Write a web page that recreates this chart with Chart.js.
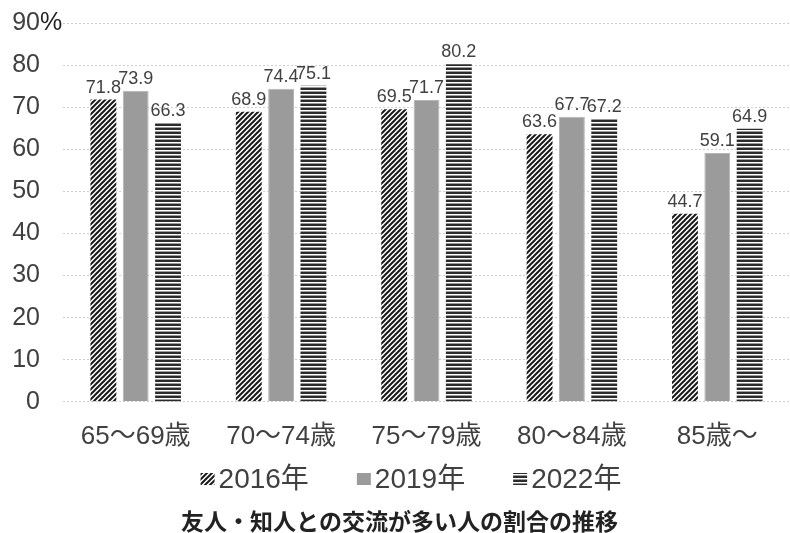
<!DOCTYPE html>
<html>
<head>
<meta charset="utf-8">
<script src="https://cdn.jsdelivr.net/npm/chart.js@4.4.1/dist/chart.umd.min.js"></script>
<style>
  html, body { margin: 0; padding: 0; background: #fff; }
  #wrap { width: 790px; height: 533px; }
</style>
</head>
<body>
<div id="wrap"><canvas id="chart" width="790" height="533"></canvas></div>
<script>
// data
const ageGroups = ['65～69歳', '70～74歳', '75～79歳', '80～84歳', '85歳～'];
const seriesNames = ['2016年', '2019年', '2022年'];
const values2016 = [71.8, 68.9, 69.5, 63.6, 44.7];
const values2019 = [73.9, 74.4, 71.7, 67.7, 59.1];
const values2022 = [66.3, 75.1, 80.2, 67.2, 64.9];
const yTicks = [0, 10, 20, 30, 40, 50, 60, 70, 80, 90];

const FONT = '"Liberation Sans", Arial, "Noto Sans CJK JP", sans-serif';
const TEXT = '#404040';

function makePattern(kind) {
  const c = document.createElement('canvas');
  const g = c.getContext('2d');
  if (kind === 'diag') {
    c.width = 5; c.height = 5;
    g.fillStyle = '#fff'; g.fillRect(0, 0, 5, 5);
    g.strokeStyle = '#1a1a1a'; g.lineWidth = 2;
    g.beginPath();
    g.moveTo(-1, 6); g.lineTo(6, -1);
    g.moveTo(-1, 1); g.lineTo(1, -1);
    g.moveTo(4, 6); g.lineTo(6, 4);
    g.stroke();
  } else {
    c.width = 4; c.height = 4;
    const rows = ['#2b2b2b', '#2b2b2b', '#ffffff', '#9a9a9a'];
    rows.forEach((col, i) => { g.fillStyle = col; g.fillRect(0, i, 4, 1); });
  }
  return g.createPattern(c, 'repeat');
}

const barLabels = {
  id: 'barLabels',
  afterDatasetsDraw(chart) {
    const ctx = chart.ctx;
    ctx.save();
    ctx.font = '18px ' + FONT;
    ctx.fillStyle = TEXT;
    ctx.textAlign = 'center';
    ctx.textBaseline = 'bottom';
    chart.data.datasets.forEach((ds, i) => {
      chart.getDatasetMeta(i).data.forEach((bar, j) => {
        ctx.fillText(ds.data[j].toFixed(1), bar.x, bar.y - 3);
      });
    });
    ctx.restore();
  }
};

// "%" after the top tick
const percentSign = {
  id: 'percentSign',
  afterDraw(chart) {
    const y = chart.scales.y;
    const ctx = chart.ctx;
    ctx.save();
    ctx.font = '25px ' + FONT;
    ctx.fillStyle = '#222';
    ctx.textAlign = 'left';
    ctx.textBaseline = 'middle';
    ctx.fillText('%', 40, y.getPixelForValue(90));
    ctx.restore();
  }
};

// legend row under the axis labels: small swatch, tight gap, text
const swatchLegend = {
  id: 'swatchLegend',
  afterDraw(chart) {
    const ctx = chart.ctx;
    const cy = 479, gap = 48, box = 14, boxH = 12, textGap = 4;
    ctx.save();
    ctx.font = '28px ' + FONT;
    ctx.textBaseline = 'middle';
    ctx.textAlign = 'left';
    const ds = chart.data.datasets;
    const widths = ds.map(d => box + textGap + ctx.measureText(d.label).width);
    const total = widths.reduce((a, b) => a + b, 0) + gap * (ds.length - 1);
    let x = 411 - total / 2;
    ds.forEach((d, i) => {
      ctx.fillStyle = d.backgroundColor;
      ctx.fillRect(x, cy - boxH / 2, box, boxH);
      ctx.fillStyle = TEXT;
      ctx.fillText(d.label, x + box + textGap, cy + 1);
      x += widths[i] + gap;
    });
    ctx.restore();
  }
};

const ctx = document.getElementById('chart').getContext('2d');
new Chart(ctx, {
  type: 'bar',
  data: {
    labels: ageGroups,
    datasets: [
      { label: seriesNames[0], data: values2016, backgroundColor: makePattern('diag'), borderWidth: 0 },
      { label: seriesNames[1], data: values2019, backgroundColor: '#9b9b9b', borderColor: '#b5b5b5', borderWidth: 1 },
      { label: seriesNames[2], data: values2022, backgroundColor: makePattern('horiz'), borderWidth: 0 }
    ]
  },
  options: {
    responsive: false,
    animation: false,
    layout: { padding: { top: 23, right: -9, left: 0, bottom: 0 } },
    datasets: { bar: { categoryPercentage: 0.667, barPercentage: 0.8 } },
    scales: {
      x: {
        grid: { display: false, drawTicks: false },
        border: { display: false },
        ticks: { color: TEXT, font: { size: 26, family: FONT }, padding: 19, maxRotation: 0 },
        // room below the labels is kept for the legend row
        afterFit: s => { s.height = 107; }
      },
      y: {
        min: 0, max: 90,
        afterBuildTicks: s => { s.ticks = yTicks.map(v => ({ value: v })); },
        afterFit: s => { s.width = 63; s.paddingTop = 0; s.paddingBottom = 0; },
        grid: { color: '#cfcfcf', lineWidth: 1, drawTicks: false },
        border: { display: false, dash: [2, 2] },
        ticks: { color: TEXT, font: { size: 25, family: FONT }, padding: 23 }
      }
    },
    plugins: {
      legend: { display: false },
      title: {
        display: true,
        position: 'bottom',
        text: '友人・知人との交流が多い人の割合の推移',
        color: '#222',
        font: { size: 23, weight: 'bold', family: '"Noto Sans CJK JP", sans-serif', lineHeight: 1.05 },
        padding: { top: 0, bottom: 0 }
      },
      tooltip: { enabled: false }
    }
  },
  plugins: [barLabels, percentSign, swatchLegend]
});
</script>
</body>
</html>
